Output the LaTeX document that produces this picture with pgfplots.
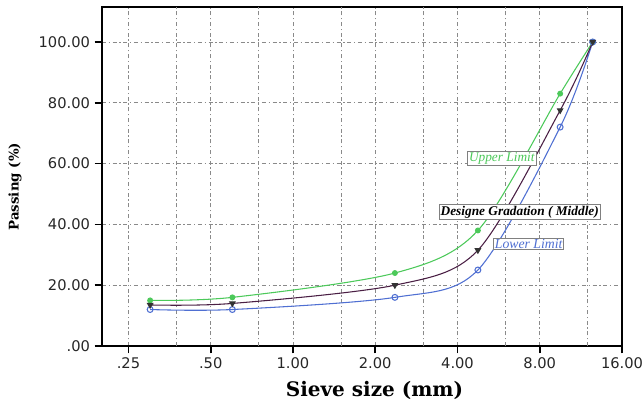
\documentclass[border=0pt]{standalone}
\usepackage{pgfplots}
\pgfplotsset{compat=1.18}
\usepackage{fontspec}
\setmainfont{Liberation Serif}
\newfontfamily\ticksfont{DejaVu Sans}
\newfontfamily\labelfont{DejaVu Serif}
\definecolor{upcol}{HTML}{4CC95A}
\definecolor{midcol}{HTML}{4A1F44}
\definecolor{lowcol}{HTML}{4F6FD2}
\definecolor{gridcol}{HTML}{8A8A8A}

\begin{document}
\begin{tikzpicture}
\useasboundingbox (-76.5pt,-44.25pt) rectangle (406.5pt,259.5pt);
\begin{axis}[
    at={(0,0)}, anchor=south west,
    scale only axis,
    width=390pt, height=254.25pt,
    xmode=log,
    xmin=0.2, xmax=16,
    ymin=0, ymax=111.5,
    xtick={0.25,0.5,1,2,4,8,16},
    xticklabels={.25,.50,1.00,2.00,4.00,8.00,16.00},
    extra x ticks={0.375,0.75,1.5,3,6,12},
    extra x tick labels={},
    extra x tick style={major tick length=0pt, grid=major},
    ytick={0,20,40,60,80,100},
    yticklabels={.00,20.00,40.00,60.00,80.00,100.00},
    grid=major,
    major grid style={gridcol, dash pattern=on 3pt off 2pt on 1pt off 2pt, line width=0.55pt},
    axis line style={line width=1.3pt},
    tick align=outside,
    major tick length=5.5pt,
    minor tick num=0,
    tick style={line width=1.3pt, black},
    xtick pos=bottom, ytick pos=left,
    tick label style={font=\ticksfont\fontsize{11}{13}\selectfont, text=black!85},
    xlabel={Sieve size (mm)},
    ylabel={Passing (\%)},
    xlabel style={font=\labelfont\bfseries\fontsize{15}{18}\selectfont, at={(axis description cs:0.524,-0.13)}, anchor=center},
    ylabel style={font=\labelfont\bfseries\fontsize{10}{12}\selectfont, at={(axis description cs:-0.167,0.47)}, anchor=center},
]

% Upper limit
\addplot[color=upcol, line width=0.8pt, smooth, mark=*, mark size=1.8pt,
         mark options={fill=upcol, draw=upcol}]
    coordinates {(0.3,15) (0.6,16) (2.36,24) (4.75,38) (9.5,83) (12.5,100)};

% Lower limit
\addplot[color=lowcol, line width=0.8pt, smooth, mark=o, mark size=2.2pt,
         mark options={draw=lowcol, line width=0.8pt}]
    coordinates {(0.3,12) (0.6,12) (2.36,16) (4.75,25) (9.5,72) (12.5,100)};

% Designed gradation (middle)
\addplot[color=midcol, line width=0.8pt, smooth, mark=triangle*, mark size=2.2pt,
         mark options={fill=black!80, draw=black!80, rotate=180}]
    coordinates {(0.3,13.5) (0.6,14) (2.36,20) (4.75,31.5) (9.5,77.5) (12.5,100)};

\node[draw=gray, fill=white, inner sep=1pt, line width=0.6pt, text=upcol,
      font=\itshape\fontsize{10}{11}\selectfont] at (axis cs:5.81,61.8) {Upper Limit};
\node[draw=gray, fill=white, inner sep=1pt, line width=0.6pt, text=black,
      font=\bfseries\itshape\fontsize{10}{11}\selectfont] at (axis cs:6.76,44.1) {Designe Gradation ( Middle)};
\node[draw=gray, fill=white, inner sep=1pt, line width=0.6pt, text=lowcol,
      font=\itshape\fontsize{10.3}{11}\selectfont] at (axis cs:7.29,33.6) {Lower Limit};
\end{axis}
\end{tikzpicture}
\end{document}
